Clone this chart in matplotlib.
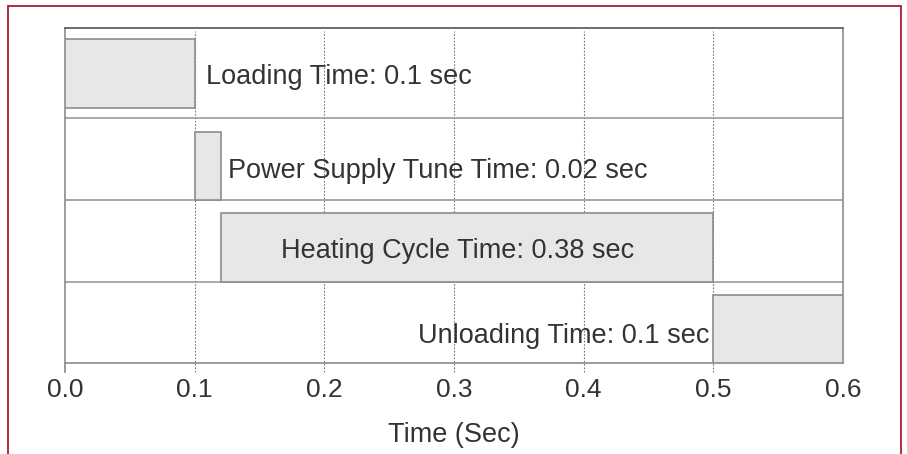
import matplotlib.pyplot as plt
from matplotlib.patches import Rectangle

plt.rcParams['font.family'] = ['Liberation Sans', 'DejaVu Sans']

# process steps (top row first)
steps = ["Loading Time", "Power Supply Tune Time", "Heating Cycle Time", "Unloading Time"]
starts = [0.0, 0.1, 0.12, 0.5]
durations = [0.1, 0.02, 0.38, 0.1]
xticks = [0.0, 0.1, 0.2, 0.3, 0.4, 0.5, 0.6]

fig = plt.figure(figsize=(9.07, 4.54), dpi=100)
ax = fig.add_axes([0.0717, 0.2004, 0.8577, 0.7379])

# red frame around the figure
fig.patches.append(Rectangle((8 / 907, -0.1), 893 / 907, 1.1 - 6 / 454,
                             transform=fig.transFigure, fill=False,
                             edgecolor='#a81c34', linewidth=1.3, clip_on=False))

band_bottom = [3.0, 2.0, 1.0, 0.0]
bar_offset = [0.13, 0.0, 0.0, 0.0]
bar_h = 0.84
edge = '#8c8c8c'
fill = '#e6e7e8'

for i, (s, d) in enumerate(zip(starts, durations)):
    ax.barh(band_bottom[i] + bar_offset[i], d, left=s, height=bar_h, align='edge',
            color=fill, edgecolor=edge, linewidth=1.2, zorder=3)

# row separators
for y in [1.0, 2.0, 3.0]:
    ax.axhline(y, color='#9a9a9a', linewidth=1.2, zorder=2)

# dotted grid, running a bit below the axis
for x in xticks[1:-1]:
    ax.axvline(x, ymin=-0.027, ymax=0.99, color='#777777', linestyle=(0, (1.5, 1.5)),
               linewidth=0.8, zorder=1, clip_on=False)
ax.axvline(0.0, ymin=-0.027, ymax=0, color='#888888', linewidth=1.2, clip_on=False)

txt = dict(fontsize=19.5, color='#333333', zorder=5)
lab = [f"{n}: {d} sec" for n, d in zip(steps, durations)]
ax.text(starts[0] + durations[0] + 0.009, 3.51, lab[0], ha='left', va='center', **txt)
ax.text(starts[1] + durations[1] + 0.006, 2.36, lab[1], ha='left', va='center', **txt)
ax.text(starts[2] + durations[2] / 2 - 0.007, 1.38, lab[2], ha='center', va='center', **txt)
ax.text(starts[3] - 0.003, 0.33, lab[3], ha='right', va='center', **txt)

ax.set_xlim(0, 0.6)
ax.set_ylim(0, 4.11)
ax.set_yticks([])
ax.set_xticks(xticks)
ax.set_xticklabels([f"{v:.1f}" for v in xticks])
ax.tick_params(axis='x', length=0, pad=11, labelsize=19, labelcolor='#333333')
ax.set_xlabel("Time (Sec)", fontsize=19.5, color='#333333', labelpad=14)

ax.spines['top'].set_color('#555555')
ax.spines['top'].set_linewidth(1.2)
for side in ['left', 'right', 'bottom']:
    ax.spines[side].set_color('#8c8c8c')
    ax.spines[side].set_linewidth(1.2)

fig.savefig('out.png', dpi=100)
